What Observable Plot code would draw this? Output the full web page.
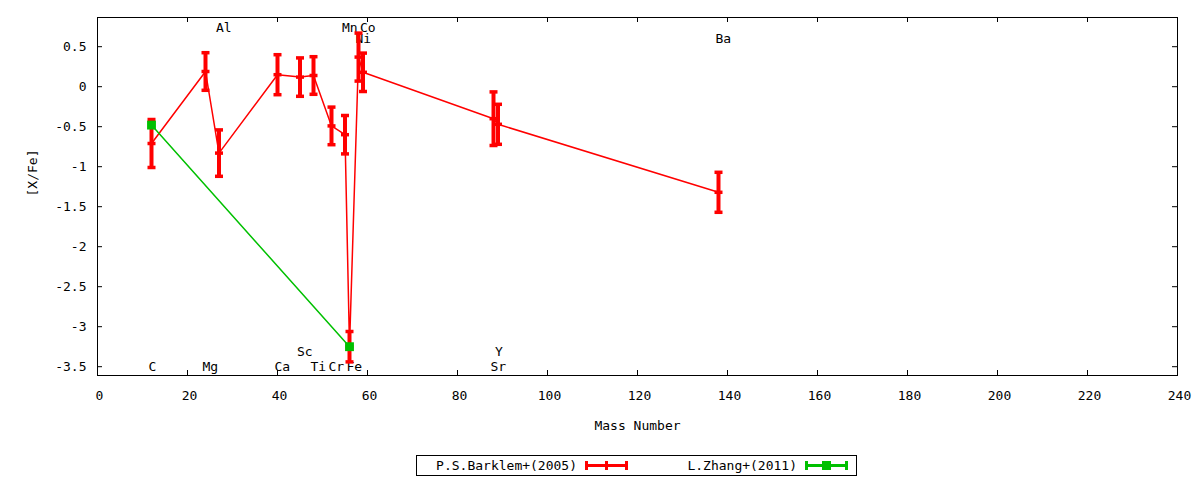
<!DOCTYPE html>
<html><head><meta charset="utf-8">
<script src="https://cdn.jsdelivr.net/npm/d3@7"></script>
<script src="https://cdn.jsdelivr.net/npm/@observablehq/plot@0.6"></script>
<style>
body{margin:0;background:#fff;}
#wrap{position:relative;width:1200px;height:480px;font-family:"DejaVu Sans Mono",monospace;}
#legend{position:absolute;left:416px;top:455px;}
</style></head>
<body><div id="wrap"><div id="chart"></div>
<svg id="legend" width="441" height="21" font-family="DejaVu Sans Mono" font-size="13">
<rect x="0.5" y="0.5" width="440" height="20" fill="none" stroke="#000"/>
<text x="161" y="10.5" text-anchor="end" dominant-baseline="central">P.S.Barklem+(2005)</text>
<line x1="169" x2="212" y1="10.5" y2="10.5" stroke="#ff0000" stroke-width="3"/>
<line x1="170.5" x2="170.5" y1="6" y2="15" stroke="#ff0000" stroke-width="3"/>
<line x1="210.5" x2="210.5" y1="6" y2="15" stroke="#ff0000" stroke-width="3"/>
<line x1="190.5" x2="190.5" y1="6" y2="15" stroke="#ff0000" stroke-width="3"/>
<text x="381" y="10.5" text-anchor="end" dominant-baseline="central">L.Zhang+(2011)</text>
<line x1="389" x2="432" y1="10.5" y2="10.5" stroke="#00c000" stroke-width="3"/>
<line x1="390.5" x2="390.5" y1="6" y2="15" stroke="#00c000" stroke-width="3"/>
<line x1="430.5" x2="430.5" y1="6" y2="15" stroke="#00c000" stroke-width="3"/>
<rect x="406" y="6" width="9" height="9" fill="#00c000"/>
</svg>
</div>
<script>
// Data: P.S.Barklem+(2005)
const elements = ["C","Mg","Al","Ca","Sc","Ti","Cr","Mn","Fe","Ni","Co","Sr","Y","Ba"];
const masses = [12,24,27,40,45,48,52,55,56,58,59,88,89,138];
const barklemValue = [-0.71,0.19,-0.83,0.15,0.12,0.14,-0.49,-0.60,-3.25,0.37,0.18,-0.40,-0.47,-1.32];
const barklemError = [0.30,0.235,0.29,0.25,0.24,0.235,0.235,0.24,0.19,0.30,0.24,0.335,0.25,0.25];
// Data: L.Zhang+(2011)
const zhangMass = [12,56];
const zhangValue = [-0.48,-3.25];
const zhangError = [0.03,0.03];
// Element labels (mass number, [X/Fe] placement)
const labelNames = ["C","Mg","Al","Ca","Sc","Ti","Cr","Mn","Fe","Co","Ni","Sr","Y","Ba"];
const labelX = [12,24,27,40,45,48,52,55,56,59,58,88,89,138];
const labelY = [-3.5,-3.5,0.73,-3.5,-3.32,-3.5,-3.5,0.73,-3.5,0.73,0.6,-3.5,-3.32,0.6];
// Axis ticks
const xTicks = [0,20,40,60,80,100,120,140,160,180,200,220,240];
const yTicks = [0.5,0,-0.5,-1,-1.5,-2,-2.5,-3,-3.5];

const red = "#ff0000", green = "#00c000";
const barklem = elements.map((e,i)=>({e, x:masses[i], y:barklemValue[i], lo:barklemValue[i]-barklemError[i], hi:barklemValue[i]+barklemError[i]}));
const zhang = zhangMass.map((m,i)=>({x:m, y:zhangValue[i], lo:zhangValue[i]-zhangError[i], hi:zhangValue[i]+zhangError[i]}));
const labels = labelNames.map((n,i)=>({n, x:labelX[i], y:labelY[i]}));

const capSymbol = {draw(ctx, size){ const r = Math.sqrt(size/Math.PI); ctx.moveTo(-r,0); ctx.lineTo(r,0); }};

const W = 1200, H = 440, mL = 97, mR = 23, mT = 17, mB = 65;
const iw = W - mL - mR, ih = H - mT - mB;
const tl = 5;

const chart = Plot.plot({
  width: W, height: H,
  marginLeft: mL, marginRight: mR, marginTop: mT, marginBottom: mB,
  style: {fontFamily: "DejaVu Sans Mono", fontSize: "13px", background: "#fff", color: "#000"},
  x: {domain: [0,240]},
  y: {domain: [-3.61,0.865]},
  marks: [
    Plot.axisX({ticks: xTicks, tickSize: 0, tickPadding: 15, dx: 2, tickFormat: d=>String(d), label: null}),
    Plot.axisY({ticks: yTicks, tickSize: 0, tickPadding: 11, tickFormat: d=>String(d), label: null}),
    Plot.tickX(xTicks.slice(1,-1), {x: d=>d, insetTop: ih - tl, stroke: "#000"}),
    Plot.tickX(xTicks.slice(1,-1), {x: d=>d, insetBottom: ih - tl, stroke: "#000"}),
    Plot.tickY(yTicks, {y: d=>d, insetRight: iw - tl, stroke: "#000"}),
    Plot.tickY(yTicks, {y: d=>d, insetLeft: iw - tl, stroke: "#000"}),
    Plot.text(labels, {x:"x", y:"y", text:"n", textAnchor:"start", dx:-3, fill:"#000"}),
    // Barklem
    Plot.line(barklem, {x:"x", y:"y", stroke: red, strokeWidth: 1.5}),
    Plot.ruleX(barklem, {x:"x", y1:"lo", y2:"hi", stroke: red, strokeWidth: 4}),
    Plot.dot(barklem, {x:"x", y:"lo", r:4, symbol: capSymbol, stroke: red, strokeWidth: 3.5}),
    Plot.dot(barklem, {x:"x", y:"hi", r:4, symbol: capSymbol, stroke: red, strokeWidth: 3.5}),
    Plot.dot(barklem, {x:"x", y:"y", r:4, symbol: capSymbol, stroke: red, strokeWidth: 3.5}),
    // Zhang
    Plot.line(zhang, {x:"x", y:"y", stroke: green, strokeWidth: 1.5}),
    Plot.ruleX(zhang, {x:"x", y1:"lo", y2:"hi", stroke: green, strokeWidth: 3}),
    Plot.dot(zhang, {x:"x", y:"y", r:5, symbol:"square", fill: green, stroke: "none"}),
    Plot.frame({stroke:"#000", strokeWidth: 1}),
    Plot.text(["Mass Number"], {frameAnchor:"bottom", dy: 50, text: d=>d, fill:"#000", lineAnchor:"middle"}),
    Plot.text(["[X/Fe]"], {frameAnchor:"left", dx: -65, rotate: -90, text: d=>d, fill:"#000", lineAnchor:"middle"})
  ]
});
document.getElementById("chart").appendChild(chart);
</script>
</body></html>
